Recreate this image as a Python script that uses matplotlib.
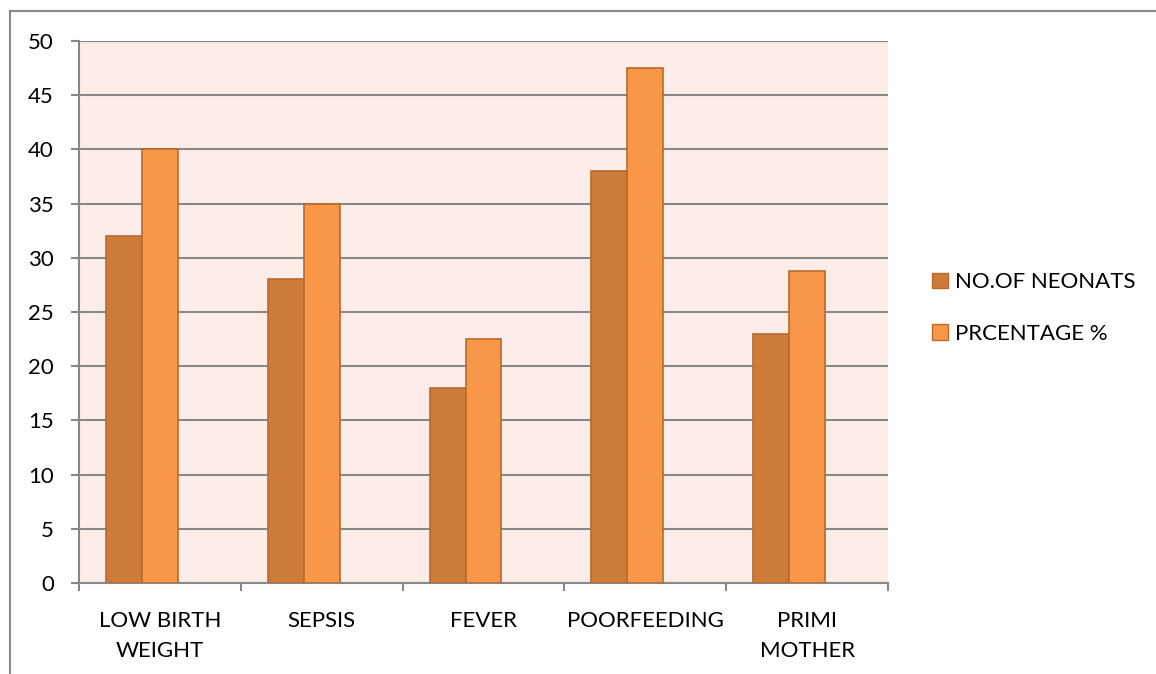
import matplotlib.pyplot as plt
from matplotlib.lines import Line2D
from matplotlib.patches import Patch
import numpy as np

categories = ["LOW BIRTH\nWEIGHT", "SEPSIS", "FEVER", "POORFEEDING", "PRIMI\nMOTHER"]
neonates = [32, 28, 18, 38, 23]
percentage = [40, 35, 22.5, 47.5, 28.75]
series_names = ["NO.OF NEONATS", "PRCENTAGE %"]

plt.rcParams["font.family"] = ["Lato", "DejaVu Sans"]

dark = "#CC7B38"
light = "#F79747"
edge = "#B86A2C"
grid_col = "#888888"
fs = 16

fig = plt.figure(figsize=(11.56, 6.74), dpi=100)
ax = fig.add_axes([79 / 1156, 91 / 674, 809 / 1156, 542 / 674])
ax.set_facecolor("#FCEDE8")

x = np.arange(len(categories))
w = 1 / 4.5  # three slots per category (third series empty), gap width 50%
ax.bar(x - w, neonates, width=w, color=dark, edgecolor=edge, linewidth=1.2, zorder=3)
ax.bar(x, percentage, width=w, color=light, edgecolor=edge, linewidth=1.2, zorder=3)

ax.set_xlim(-0.5, len(categories) - 0.5)
ax.set_ylim(0, 50)
ax.set_yticks(np.arange(0, 51, 5))
ax.yaxis.grid(True, color=grid_col, linewidth=1.5, zorder=1)
ax.set_axisbelow(True)

ax.set_xticks(np.arange(-0.5, len(categories), 1))
ax.set_xticklabels([])
ax.set_xticks(x, minor=True)
ax.set_xticklabels(categories, minor=True, fontsize=fs, linespacing=1.63, va="top")
ax.tick_params(axis="x", which="minor", length=0, pad=20)
ax.tick_params(axis="x", which="major", length=6, width=1.5, color=grid_col)
ax.tick_params(axis="y", length=6, width=1.5, color=grid_col, labelsize=fs, pad=12)

for s in ["top", "right"]:
    ax.spines[s].set_visible(False)
for s in ["left", "bottom"]:
    ax.spines[s].set_color(grid_col)
    ax.spines[s].set_linewidth(1.5)

handles = [Patch(facecolor=dark, edgecolor=edge), Patch(facecolor=light, edgecolor=edge)]
fig.legend(handles, series_names, loc="center left",
           bbox_to_anchor=(932 / 1156, 1 - 308 / 674), frameon=False,
           fontsize=fs, handlelength=0.7, handleheight=0.7,
           handletextpad=0.35, labelspacing=1.42, borderpad=0, borderaxespad=0)

# outer chart border (only left and top visible)
fig.add_artist(Line2D([10 / 1156, 10 / 1156], [0, 1 - 11 / 674], color=grid_col, linewidth=1.5))
fig.add_artist(Line2D([10 / 1156, 1], [1 - 11 / 674, 1 - 11 / 674], color=grid_col, linewidth=1.5))

fig.savefig("out.png", dpi=100)
